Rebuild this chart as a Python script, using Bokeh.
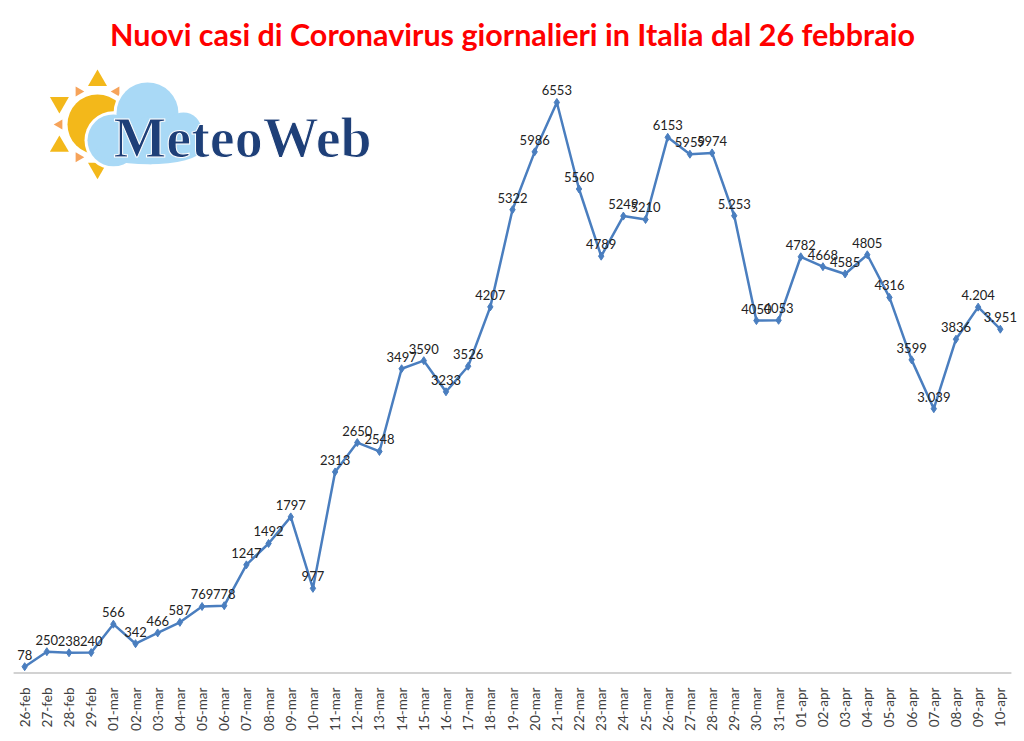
import numpy as np
from bokeh.plotting import figure
from bokeh.models import ColumnDataSource, Label, LabelSet, Range1d, FactorRange
from bokeh.core.properties import value
from bokeh.embed import file_html
from bokeh.resources import INLINE

dates = ["26-feb", "27-feb", "28-feb", "29-feb",
         "01-mar", "02-mar", "03-mar", "04-mar", "05-mar", "06-mar", "07-mar", "08-mar",
         "09-mar", "10-mar", "11-mar", "12-mar", "13-mar", "14-mar", "15-mar", "16-mar",
         "17-mar", "18-mar", "19-mar", "20-mar", "21-mar", "22-mar", "23-mar", "24-mar",
         "25-mar", "26-mar", "27-mar", "28-mar", "29-mar", "30-mar", "31-mar",
         "01-apr", "02-apr", "03-apr", "04-apr", "05-apr", "06-apr", "07-apr", "08-apr",
         "09-apr", "10-apr"]
cases = [78, 250, 238, 240,
         566, 342, 466, 587, 769, 778, 1247, 1492,
         1797, 977, 2313, 2650, 2548, 3497, 3590, 3233,
         3526, 4207, 5322, 5986, 6553, 5560, 4789, 5249,
         5210, 6153, 5959, 5974, 5253, 4050, 4053,
         4782, 4668, 4585, 4805, 4316, 3599, 3039, 3836,
         4204, 3951]
labels = ["78", "250", "238", "240",
          "566", "342", "466", "587", "769", "778", "1247", "1492",
          "1797", "977", "2313", "2650", "2548", "3497", "3590", "3233",
          "3526", "4207", "5322", "5986", "6553", "5560", "4789", "5249",
          "5210", "6153", "5959", "5974", "5.253", "4050", "4053",
          "4782", "4668", "4585", "4805", "4316", "3599", "3.039", "3836",
          "4.204", "3.951"]

title_text = "Nuovi casi di Coronavirus giornalieri in Italia dal 26 febbraio"
logo_text = "MeteoWeb"

src = ColumnDataSource(dict(d=dates, v=cases, lab=labels))

W, H = 1022, 733
BL, BR, BT, BB = 2, 0, 63, 59
YMAX = 7000
N = len(dates)

xr = FactorRange(*dates, range_padding=0.5, range_padding_units="absolute")
p = figure(width=W, height=H, x_range=xr, y_range=Range1d(0, YMAX),
           output_backend="svg", toolbar_location=None,
           min_border_left=BL, min_border_right=BR, min_border_top=BT,
           min_border_bottom=BB, outline_line_color=None)

p.title.text = title_text
p.title.align = "center"
p.title.text_color = "#FF0000"
p.title.text_font = "Lato"
p.title.text_font_style = "bold"
p.title.text_font_size = "30.5px"
p.title.standoff = 24

p.yaxis.visible = False
p.grid.visible = False
p.xaxis.major_label_orientation = 1.5708
p.xaxis.major_label_text_font = "Lato"
p.xaxis.major_label_text_font_size = "13.5px"
p.xaxis.major_label_text_color = "#404040"
p.xaxis.axis_line_color = None
p.xaxis.major_tick_line_color = None
p.xaxis.minor_tick_line_color = None
p.xaxis.major_label_standoff = 8

# category axis line spanning the categories only
p.segment(x0=[0], y0=[0], x1=[N], y1=[0], line_color="#A6A6A6", line_width=2)

# ---- logo decoration (placed by canvas pixels, converted to data units) ----
fw, fh = W - BL - BR, H - BT - BB
def px(xp, yp):
    return ((xp - BL) / fw * (N + 1) - 0.5, (BT + fh - yp) / fh * YMAX)

sun_c = (97, 124)
def ray(r, ang_deg):
    a = np.radians(ang_deg)
    return px(sun_c[0] + r * np.cos(a), sun_c[1] - r * np.sin(a))

big_a = (90, 150, 210, 270, 30, 330)
small_a = (60, 120, 180, 240, 300)
big = [ray(44, a) for a in big_a]
small = [ray(38, a) for a in small_a]
p.scatter([b[0] for b in big], [b[1] for b in big], marker="triangle", size=19,
          angle=[np.radians(a - 90) for a in big_a],
          fill_color="#F3B81A", line_color=None)
p.scatter([s[0] for s in small], [s[1] for s in small], marker="triangle", size=10,
          angle=[np.radians(a - 90) for a in small_a],
          fill_color="#F6A35A", line_color=None)
sx, sy = px(*sun_c)
p.scatter([sx], [sy], marker="circle", size=60, fill_color="#F3B81A", line_color=None)

cloud = "#A9D9F6"
cc = [(147, 113, 62), (113, 140, 52), (183, 130, 36), (150, 140, 48)]
cx = [px(a, b)[0] for a, b, _ in cc]
cy = [px(a, b)[1] for a, b, _ in cc]
cs = [d for _, _, d in cc]
p.scatter(cx, cy, size=[d + 6 for d in cs], marker="circle", fill_color="white", line_color=None)
p.scatter(cx, cy, size=cs, marker="circle", fill_color=cloud, line_color=None)
ex, ey = px(148, 150)
p.ellipse(x=[ex], y=[ey], width=[104], height=[28], width_units="screen",
          height_units="screen", fill_color=cloud, line_color=None)
lx, ly = px(113, 138)
p.add_layout(Label(x=lx, y=ly, text=logo_text, text_font="Liberation Serif",
                   text_font_style="bold", text_font_size="56px",
                   text_color="#1E3F78", text_outline_color="white",
                   text_align="left", text_baseline="middle"))

# ---- data ----
p.line("d", "v", source=src, line_color="#4A7EBF", line_width=2.5)
p.scatter("d", "v", source=src, marker="diamond", size=8,
          fill_color="#4A7EBF", line_color="#4A7EBF")
p.add_layout(LabelSet(x="d", y="v", text="lab", source=src, text_align="center",
                      text_baseline="bottom", y_offset=7, text_font=value("Lato"),
                      text_font_size=value("13px"), text_color="#222222"))

open("out.html", "w").write(file_html(p, INLINE))
